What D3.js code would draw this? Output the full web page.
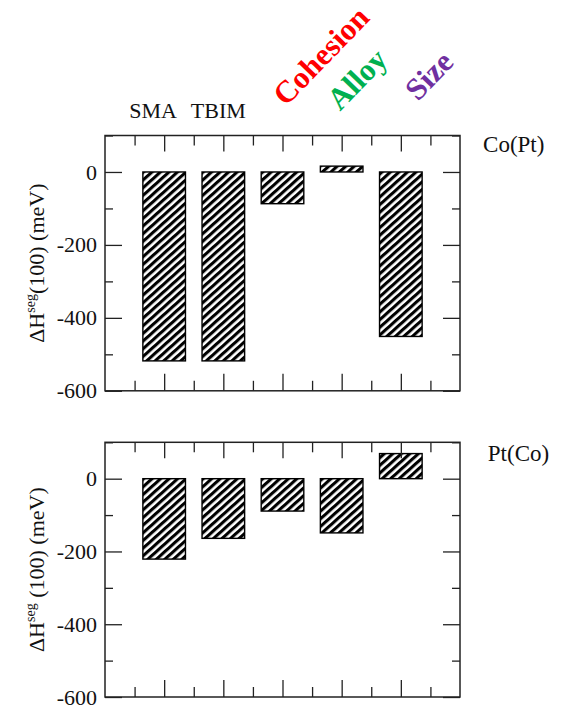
<!DOCTYPE html>
<html>
<head>
<meta charset="utf-8">
<script src="https://cdn.jsdelivr.net/npm/d3@7"></script>
<style>
  html, body { margin: 0; padding: 0; background: #fff; }
  svg { display: block; }
  text { font-family: "Liberation Serif", "DejaVu Serif", serif; }
</style>
</head>
<body>
<svg id="chart" width="566" height="709"></svg>
<script>
// Segregation enthalpy (meV) on the (100) surface, per model / contribution
const categories = ["SMA", "TBIM", "Cohesion", "Alloy", "Size"];
const coPtValues = [-518, -518, -87, 16, -451];
const ptCoValues = [-221, -164, -89, -149, 69];
const panelNames = ["Co(Pt)", "Pt(Co)"];
const yMajorTicks = [0, -200, -400, -600];
const yMinorTicks = [100, -100, -300, -500];
const xMajorTicks = [1, 2, 3, 4, 5];
const xMinorTicks = [0.5, 1.5, 2.5, 3.5, 4.5, 5.5];
const contributionColors = { Cohesion: "#ff0000", Alloy: "#00b050", Size: "#7030a0" };

const svg = d3.select("#chart");

// diagonal hatch fill for the bars
const defs = svg.append("defs");
defs.append("pattern")
  .attr("id", "hatch")
  .attr("patternUnits", "userSpaceOnUse")
  .attr("width", 5.7)
  .attr("height", 12)
  .attr("patternTransform", "rotate(48)")
  .append("rect")
  .attr("x", 0).attr("y", 0)
  .attr("width", 3.1).attr("height", 12)
  .attr("fill", "#000");

const x = d3.scaleLinear().domain([0, 6]).range([105, 460]);
const barWidth = 0.72;

const panels = [
  { name: panelNames[0], values: coPtValues, top: 135.5, bottom: 390.8, sup: "(100)" },
  { name: panelNames[1], values: ptCoValues, top: 442.3, bottom: 697, sup: " (100)" }
];

panels.forEach((p, pi) => {
  const y = d3.scaleLinear().domain([-600, 100]).range([p.bottom, p.top]);
  const g = svg.append("g");

  // bars
  g.selectAll("rect.bar")
    .data(p.values)
    .join("rect")
    .attr("class", "bar")
    .attr("x", (d, i) => x(i + 1 - barWidth / 2))
    .attr("width", x(barWidth) - x(0))
    .attr("y", d => y(Math.max(d, 0)))
    .attr("height", d => Math.abs(y(d) - y(0)))
    .attr("fill", "url(#hatch)")
    .attr("stroke", "#000")
    .attr("stroke-width", 1.4);

  // inward ticks on all four sides
  const addAxis = (axis, tx, ty) => {
    const a = g.append("g").attr("transform", `translate(${tx},${ty})`).call(axis);
    a.select(".domain").remove();
    a.selectAll("line").attr("stroke", "#222").attr("stroke-width", 1.3);
    return a;
  };
  const left = addAxis(
    d3.axisLeft(y).tickValues(yMajorTicks).tickSize(-17).tickPadding(8).tickFormat(d => String(d)),
    x(0), 0);
  left.selectAll("text")
    .attr("font-size", 22)
    .attr("fill", "#111")
    .style("font-family", "'Liberation Serif', serif");
  addAxis(d3.axisLeft(y).tickValues(yMinorTicks).tickSize(-8).tickFormat(""), x(0), 0);
  addAxis(d3.axisRight(y).tickValues(yMajorTicks).tickSize(-17).tickFormat(""), x(6), 0);
  addAxis(d3.axisRight(y).tickValues(yMinorTicks).tickSize(-8).tickFormat(""), x(6), 0);
  addAxis(d3.axisBottom(x).tickValues(xMajorTicks).tickSize(-17).tickFormat(""), 0, p.bottom);
  addAxis(d3.axisBottom(x).tickValues(xMinorTicks).tickSize(-10).tickFormat(""), 0, p.bottom);
  addAxis(d3.axisTop(x).tickValues(xMajorTicks).tickSize(-16).tickFormat(""), 0, p.top);
  addAxis(d3.axisTop(x).tickValues(xMinorTicks).tickSize(-10).tickFormat(""), 0, p.top);

  // frame
  g.append("rect")
    .attr("x", x(0)).attr("y", p.top)
    .attr("width", x(6) - x(0)).attr("height", p.bottom - p.top)
    .attr("fill", "none").attr("stroke", "#222").attr("stroke-width", 1.5);

  // y-axis title: ΔH^seg(100) (meV)
  const cy = (p.top + p.bottom) / 2;
  const t = g.append("text")
    .attr("transform", `translate(44,${cy}) rotate(-90)`)
    .attr("text-anchor", "middle")
    .attr("font-size", 22)
    .attr("fill", "#111");
  t.append("tspan").text("ΔH");
  t.append("tspan").attr("font-size", 14).attr("dy", -9).text("seg");
  t.append("tspan").attr("dy", 9).text(p.sup + " (meV)");

  // system label to the right of the frame
  g.append("text")
    .attr("x", x(6.39 + pi * 0.08))
    .attr("y", y(pi === 0 ? 55 : 49))
    .attr("font-size", 23)
    .attr("fill", "#111")
    .text(p.name);

  if (pi === 0) {
    // model names over the first two bars
    const modelLabels = [
      { text: categories[0], xv: 0.41 },
      { text: categories[1], xv: 1.45 }
    ];
    g.selectAll("text.model")
      .data(modelLabels)
      .join("text")
      .attr("class", "model")
      .attr("x", d => x(d.xv))
      .attr("y", y(148))
      .attr("font-size", 22)
      .attr("fill", "#111")
      .text(d => d.text);

    // slanted contribution names
    const contribLabels = [
      { text: categories[2], xv: 3.06, yv: 178 },
      { text: categories[3], xv: 3.97, yv: 165 },
      { text: categories[4], xv: 5.29, yv: 192 }
    ];
    g.selectAll("text.contrib")
      .data(contribLabels)
      .join("text")
      .attr("class", "contrib")
      .attr("transform", d => `translate(${x(d.xv)},${y(d.yv)}) rotate(-46)`)
      .attr("font-size", 31)
      .attr("font-weight", "bold")
      .attr("fill", d => contributionColors[d.text])
      .text(d => d.text);
  }
});
</script>
</body>
</html>
